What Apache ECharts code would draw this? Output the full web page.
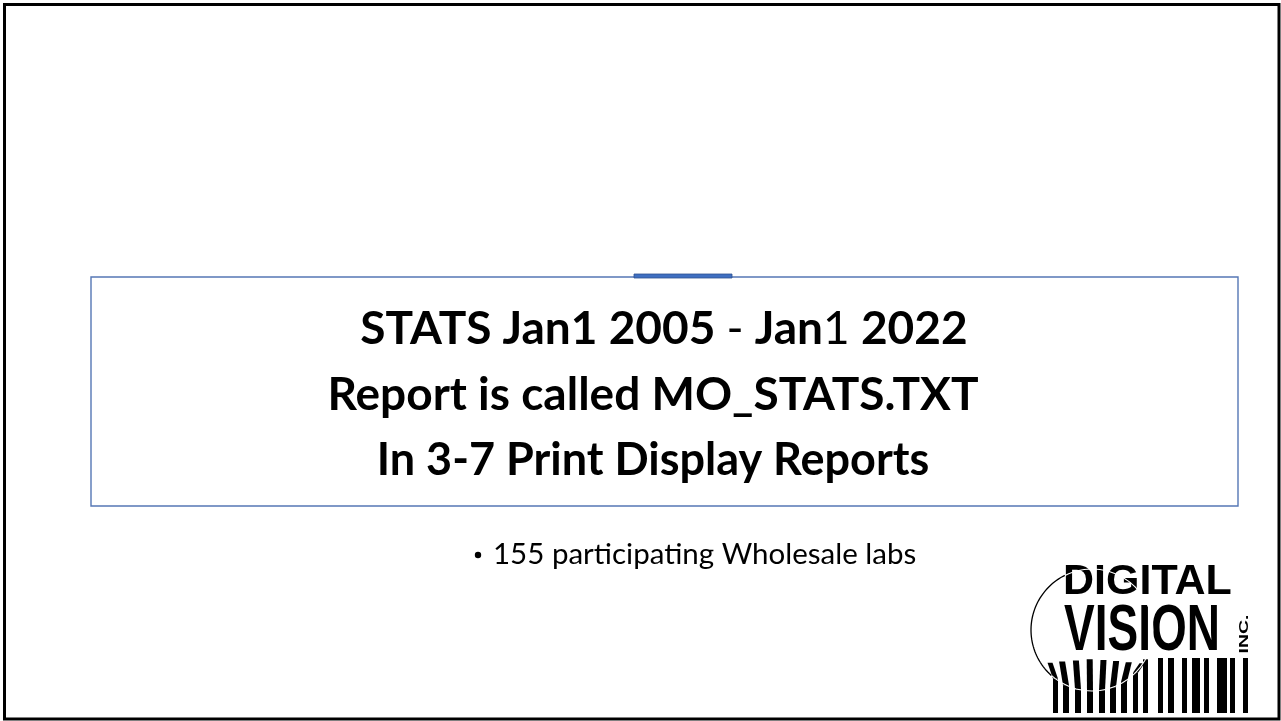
<!DOCTYPE html>
<html><head><meta charset="utf-8">
<script src="https://cdn.jsdelivr.net/npm/echarts@6/dist/echarts.min.js"></script>
<style>html,body{margin:0;padding:0;background:#fff}#c{width:1281px;height:721px}</style>
</head><body><div id="c"></div>
<script>
// ---- content ----
const titleLine1 = [['STATS Jan1 2005 ', 'b'], ['-', 'n'], [' Jan', 'b'], ['1', 'n'], [' 2022', 'b']];
const titleLines = ['Report is called MO_STATS.TXT', 'In 3-7 Print Display Reports'];
const bulletItems = ['155 participating Wholesale labs'];
const logoWords = ['DIGITAL', 'VISION', 'INC.'];
// barcode bars: [left x, width]
const barsStraight = [[1158,5],[1168,6],[1182,5],[1192,8],[1204,5],[1217,10],[1230,5],[1243,5]];
const barsCurved = [[1053,5],[1063,6],[1075,6],[1087,6],[1099,6],[1110,6],[1121,6],[1133,5],[1143,5]];

const FONT = 'Lato, "Open Sans", sans-serif';
const chart = echarts.init(document.getElementById('c'), null, {renderer: 'canvas'});

const g = [];
// slide border
g.push({type:'rect', shape:{x:4.5, y:4.5, width:1274.5, height:714.5}, style:{fill:'#fff', stroke:'#000', lineWidth:3}, z:0});
// title box
g.push({type:'rect', shape:{x:91, y:277, width:1147, height:229}, style:{fill:'none', stroke:'#5577b5', lineWidth:1.4}, z:1});
g.push({type:'rect', shape:{x:634, y:274, width:98, height:4}, style:{fill:'#3f6fc1', stroke:'#2f528f', lineWidth:0.8}, z:2});

// title lines
const TS = 46;
const rich = {
  b: {fontFamily: FONT, fontWeight: 'bold', fontSize: TS, fill: '#000'},
  n: {fontFamily: FONT, fontWeight: 'normal', fontSize: TS, fill: '#000'}
};
g.push({type:'text', x:664, y:329, z:3, style:{
  text: titleLine1.map(s => '{' + s[1] + '|' + s[0] + '}').join(''),
  rich: rich, textAlign:'center', textVerticalAlign:'middle'}});
titleLines.forEach((t, i) => {
  g.push({type:'text', x:653, y:395 + i * 65, z:3, style:{
    text: t, fontFamily: FONT, fontWeight:'bold', fontSize: i === 0 ? TS : 45, fill:'#000',
    textAlign:'center', textVerticalAlign:'middle'}});
});
// bullet
bulletItems.forEach((t, i) => {
  g.push({type:'circle', shape:{cx:478, cy:555 + i * 40, r:3.2}, style:{fill:'#000'}, z:3});
  g.push({type:'text', x:493, y:554 + i * 40, z:3, style:{
    text: t, fontFamily: FONT, fontSize: 29.5, fill:'#000', textAlign:'left', textVerticalAlign:'middle'}});
});

// logo
const LF = '"Liberation Sans", Arial, sans-serif';
const CX = 1092, CY = 630, CR = 61;
function arcPts(a1, a2) {
  const pts = [];
  for (let k = 0; k <= 48; k++) {
    const a = a1 + (a2 - a1) * k / 48;
    pts.push([CX + CR * Math.cos(a), CY + CR * Math.sin(a)]);
  }
  return pts;
}
g.push({type:'text', x:1063, y:582, z:6, style:{text: logoWords[0], fontFamily: LF, fontWeight:'bold', fontSize:43, fill:'#000', textAlign:'left', textVerticalAlign:'middle'}});
g.push({type:'text', x:1064, y:632, scaleY:1.42, z:6, style:{text: logoWords[1], fontFamily: LF, fontWeight:'bold', fontSize:46, fill:'#000', textAlign:'left', textVerticalAlign:'middle'}});
g.push({type:'text', x:1244, y:634, rotation: Math.PI / 2, scaleX:1.5, z:6, style:{text: logoWords[2], fontFamily: LF, fontWeight:'bold', fontSize:13, fill:'#000', textAlign:'center', textVerticalAlign:'middle'}});
barsStraight.forEach(b => {
  g.push({type:'rect', shape:{x:b[0], y:658, width:b[1], height:55}, style:{fill:'#000'}, z:5});
});
barsCurved.forEach(b => {
  const xc = b[0] + b[1] / 2;
  const dx = xc - CX;
  const yArc = CY + Math.sqrt(Math.max(CR * CR - dx * dx, 0));
  const tilt = dx * 0.15;
  const top = 659 + Math.abs(dx) * 0.1;
  if (yArc - top > 4) {
    g.push({type:'polygon', shape:{points:[[b[0] + tilt, top],[b[0] + b[1] + tilt, top],[b[0] + b[1], yArc],[b[0], yArc]]}, style:{fill:'#000'}, z:5});
  }
  const lowTop = Math.max(yArc, 659);
  g.push({type:'rect', shape:{x:b[0], y:lowTop, width:b[1], height:713 - lowTop}, style:{fill:'#000'}, z:5});
});
// white cut line of the circle through letters and bars
g.push({type:'polyline', shape:{points: arcPts(-Math.PI, Math.PI)}, style:{fill:'none', stroke:'#fff', lineWidth:1.1}, z:7});
// visible black outline on the left
g.push({type:'polyline', shape:{points: arcPts(2.3, 4.25)}, style:{fill:'none', stroke:'#000', lineWidth:1.3}, z:8});

chart.setOption({
  backgroundColor: '#fff',
  animation: false,
  graphic: g
});
</script>
</body></html>
